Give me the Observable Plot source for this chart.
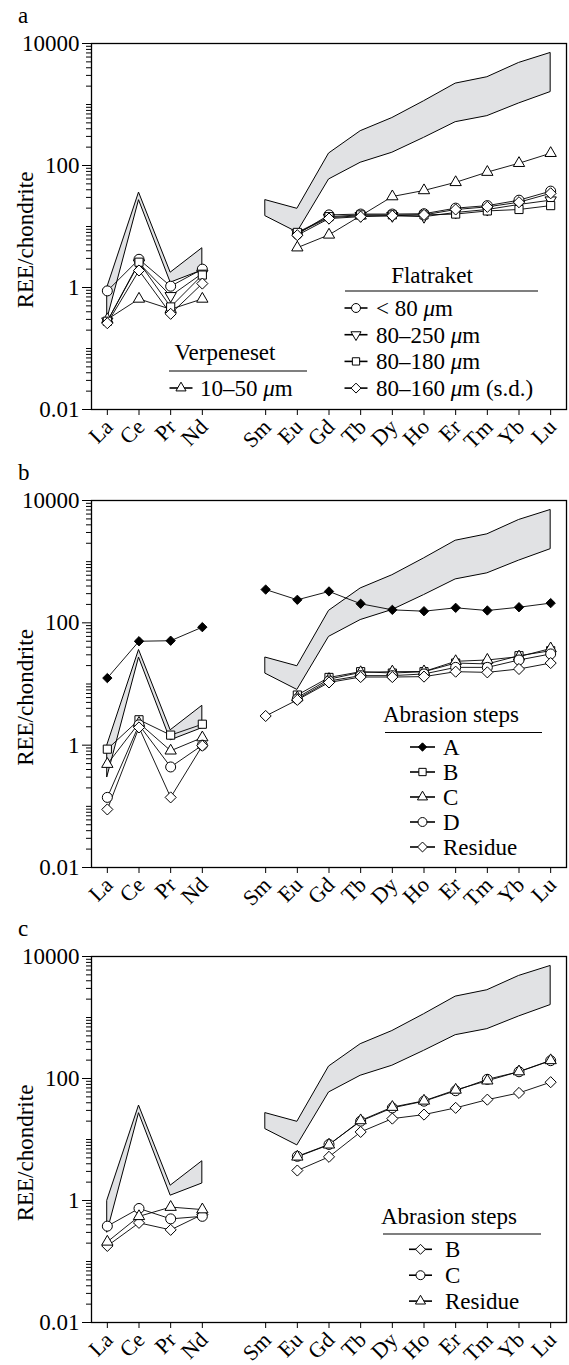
<!DOCTYPE html>
<html><head><meta charset="utf-8">
<script src="https://cdn.jsdelivr.net/npm/d3@7"></script>
<script src="https://cdn.jsdelivr.net/npm/@observablehq/plot@0.6"></script>
<style>
body{margin:0;background:#fff;}
#chart svg{display:block;}
</style></head><body><div id="chart"></div>
<script>
// ---------- data ----------
const elements = ["La","Ce","Pr","Nd","Sm","Eu","Gd","Tb","Dy","Ho","Er","Tm","Yb","Lu"];
const atomicNumbers = [57,58,59,60,62,63,64,65,66,67,68,69,70,71];
const yTicks = [0.01, 1, 100, 10000];
const yTickLabels = ["0.01", "1", "100", "10000"];
const yLabel = "REE/chondrite";

// reference field (grey band)
const bandUpper = [1.0, 36, 1.75, 4.4, 27, 19.5, 157, 365, 600, 1130, 2200, 2800, 4800, 7000];
const bandLower = [0.3, 27, 1.2, 1.9, 14.7, 8, 59, 111, 162, 284, 513, 645, 1040, 1600];

// panel a
const aVerpeneset = [0.30, 0.65, 0.44, 0.65, null, 4.5, 7.3, 15, 31, 39, 53, 78, 109, 159];
const aLt80 = [0.88, 2.9, 1.05, 2.0, null, 7.5, 15.5, 16, 16, 16.2, 20, 22, 27, 38];
const a80_250 = [0.28, 2.5, 0.73, 1.7, null, 7.8, 14, 15, 15, 14.5, 17, 19, 23, 27];
const a80_180 = [0.28, 2.6, 0.48, 1.6, null, 8.0, 14.5, 15.5, 15.5, 15.5, 16, 18, 19, 22];
const a80_160 = [0.26, 1.9, 0.37, 1.16, null, 7.2, 13.5, 14.5, 15, 15.5, 19, 21, 25, 35];
const aVerpTitle = "Verpeneset";
const aFlatTitle = "Flatraket";
const aVerpLabels = ["10–50 μm"];
const aFlatLabels = ["< 80 μm", "80–250 μm", "80–180 μm", "80–160 μm (s.d.)"];

// panel b
const bA = [12.5, 50, 51, 85, 350, 238, 326, 205, 163, 155, 176, 159, 180, 210];
const bB = [0.86, 2.6, 1.46, 2.2, null, 6.6, 12.8, 15.9, 15.1, 15.9, 22, 21.3, 29, 35];
const bC = [0.49, 2.3, 0.81, 1.33, null, 6.0, 12, 15.5, 15.9, 16, 23.5, 24.7, 28, 38];
const bD = [0.14, 2.15, 0.44, 1.0, null, 5.7, 11.2, 13.7, 13.7, 14.6, 18.7, 18.7, 24.7, 31];
const bResidue = [0.089, 1.95, 0.14, 0.98, 3.0, 5.5, 10.6, 13, 13, 13.2, 15.9, 15.5, 17.6, 22];
const bLabels = ["A", "B", "C", "D", "Residue"];

// panel c
const cB = [0.18, 0.43, 0.33, 0.59, null, 3.1, 5.2, 13.3, 22, 25.6, 33, 45, 58, 87];
const cC = [0.38, 0.74, 0.50, 0.55, null, 5.3, 8.3, 20, 33, 42.5, 63, 97, 129, 196];
const cResidue = [0.21, 0.55, 0.78, 0.71, null, 5.2, 8.2, 20.5, 34, 43, 65, 92, 130, 198];
const cLabels = ["B", "C", "Residue"];
const legendTitleAbrasion = "Abrasion steps";
const panelLetters = ["a", "b", "c"];

// ---------- symbols ----------
const SQ3 = Math.sqrt(3);
const triangleDown = {draw(ctx, size) {
  const y = Math.sqrt(size / (SQ3 * 3));
  ctx.moveTo(0, 2 * y); ctx.lineTo(-SQ3 * y, -y); ctx.lineTo(SQ3 * y, -y); ctx.closePath();
}};
const SYM = {
  circle: {type: d3.symbolCircle, r: 5},
  triangle: {type: d3.symbolTriangle, r: 4.2},
  triangleDown: {type: triangleDown, r: 4.2},
  square: {type: d3.symbolSquare, r: 4.6},
  diamond: {type: d3.symbolDiamond2, r: 5},
  diamondFilled: {type: d3.symbolDiamond2, r: 4.2, fill: "black"}
};

const FONT = "'Liberation Serif', 'Times New Roman', Times, serif";
const minorTicks = [];
for (let e = -2; e < 4; e++) for (let m = 1; m <= 9; m++) { const v = +(m * Math.pow(10, e)).toPrecision(6); if (!yTicks.includes(v)) minorTicks.push(v); }

const seg = i => (atomicNumbers[i] < 61 ? "L" : "H");
const band = elements.map((el, i) => ({x: atomicNumbers[i], lo: bandLower[i], hi: bandUpper[i], seg: seg(i)}));

function rowsOf(values) {
  return values.map((v, i) => ({x: atomicNumbers[i], y: v, seg: seg(i)})).filter(d => d.y != null);
}

function drawPanel({letter, series, height, marginTop, marginBottom, legends}) {
  const marks = [
    Plot.areaY(band, {x: "x", y1: "lo", y2: "hi", z: "seg", fill: "#e1e2e4", stroke: "black", strokeWidth: 1}),
    Plot.frame({stroke: "black", strokeWidth: 1.3}),
    Plot.axisY({ticks: minorTicks, tickSize: 5, tickFormat: () => "", label: null}),
    Plot.axisY({ticks: yTicks, tickSize: 9, tickPadding: 3, fontSize: 23,
      tickFormat: d => yTickLabels[yTicks.indexOf(d)], label: null}),
    Plot.axisX({ticks: atomicNumbers, tickSize: 6, tickFormat: () => "", label: null})
  ];
  for (const s of series) {
    marks.push(Plot.line(rowsOf(s.values), {x: "x", y: "y", z: "seg", stroke: "black", strokeWidth: 0.9}));
  }
  for (const s of series) {
    const sy = SYM[s.symbol];
    marks.push(Plot.dot(rowsOf(s.values), {x: "x", y: "y", symbol: sy.type, r: sy.r,
      fill: sy.fill || "white", stroke: "black", strokeWidth: 1}));
  }
  const svg = Plot.plot({
    width: 569, height, marginLeft: 91, marginRight: 3, marginTop, marginBottom,
    style: {fontFamily: FONT, fontSize: "23px", color: "black", background: "white", overflow: "visible"},
    x: {type: "linear", domain: [56.5, 71.5]},
    y: {type: "log", domain: [0.01, 10000]},
    marks
  });
  const g = d3.select(svg).append("g").attr("font-family", FONT).attr("font-size", 23).attr("fill", "black");
  const frameBottom = height - marginBottom;
  const xs = svg.scale("x");
  // rotated element labels on the x axis, placed with Plot's x scale
  elements.forEach((el, i) => {
    const px = xs.apply(atomicNumbers[i]);
    g.append("text").attr("transform", `translate(${px + 2},${frameBottom + 14}) rotate(-45)`)
      .attr("font-size", 22).attr("text-anchor", "end").attr("dominant-baseline", "central").text(el);
  });
  // panel letter
  g.append("text").attr("x", 18).attr("y", marginTop - 20).attr("text-anchor", "start").text(letter);
  // y label
  const yc = (marginTop + frameBottom) / 2 + 14;
  g.append("text").attr("transform", `translate(25,${yc}) rotate(-90)`)
    .attr("text-anchor", "middle").attr("dominant-baseline", "central").text(yLabel);
  // legends
  for (const L of legends) {
    g.append("text").attr("x", L.titleX).attr("y", frameBottom + L.titleY).attr("text-anchor", "middle").text(L.title);
    g.append("line").attr("x1", L.ruleX1).attr("x2", L.ruleX2)
      .attr("y1", frameBottom + L.ruleY).attr("y2", frameBottom + L.ruleY).attr("stroke", "black").attr("stroke-width", 1.2);
    L.items.forEach((it, k) => {
      const y = frameBottom + L.rowY0 + k * L.rowStep;
      const sy = SYM[it.symbol];
      g.append("line").attr("x1", L.symX - L.halfLine).attr("x2", L.symX + L.halfLine)
        .attr("y1", y).attr("y2", y).attr("stroke", "black").attr("stroke-width", 1.6);
      g.append("path").attr("transform", `translate(${L.symX},${y})`)
        .attr("d", d3.symbol().type(sy.type).size(Math.PI * sy.r * sy.r * 0.8)())
        .attr("fill", sy.fill || "white").attr("stroke", "black").attr("stroke-width", 1);
      const t = g.append("text").attr("x", L.textX).attr("y", y).attr("dy", "0.35em").attr("text-anchor", "start");
      const parts = it.label.split("μ");
      t.append("tspan").text(parts[0]);
      if (parts.length > 1) {
        t.append("tspan").attr("font-style", "italic").text("μ");
        t.append("tspan").text(parts[1]);
      }
    });
  }
  document.getElementById("chart").appendChild(svg);
}

// panel a
drawPanel({
  letter: panelLetters[0], height: 458, marginTop: 43, marginBottom: 49,
  series: [
    {values: aVerpeneset, symbol: "triangle"},
    {values: aLt80, symbol: "circle"},
    {values: a80_250, symbol: "triangleDown"},
    {values: a80_180, symbol: "square"},
    {values: a80_160, symbol: "diamond"}
  ],
  legends: [
    {title: aVerpTitle, titleX: 225, titleY: -49, ruleX1: 169, ruleX2: 307, ruleY: -38,
     rowY0: -21, rowStep: 26.7, symX: 181, halfLine: 11.5, textX: 200,
     items: [{label: aVerpLabels[0], symbol: "triangle"}]},
    {title: aFlatTitle, titleX: 432, titleY: -126, ruleX1: 345, ruleX2: 538, ruleY: -118,
     rowY0: -101, rowStep: 26.7, symX: 356, halfLine: 11.5, textX: 376,
     items: [
       {label: aFlatLabels[0], symbol: "circle"},
       {label: aFlatLabels[1], symbol: "triangleDown"},
       {label: aFlatLabels[2], symbol: "square"},
       {label: aFlatLabels[3], symbol: "diamond"}]}
  ]
});

// panel b
drawPanel({
  letter: panelLetters[1], height: 458, marginTop: 42, marginBottom: 49,
  series: [
    {values: bA, symbol: "diamondFilled"},
    {values: bB, symbol: "square"},
    {values: bC, symbol: "triangle"},
    {values: bD, symbol: "circle"},
    {values: bResidue, symbol: "diamond"}
  ],
  legends: [
    {title: legendTitleAbrasion, titleX: 451, titleY: -145, ruleX1: 385, ruleX2: 542, ruleY: -134.5,
     rowY0: -120, rowStep: 25, symX: 422.5, halfLine: 12.5, textX: 443,
     items: [
       {label: bLabels[0], symbol: "diamondFilled"},
       {label: bLabels[1], symbol: "square"},
       {label: bLabels[2], symbol: "triangle"},
       {label: bLabels[3], symbol: "circle"},
       {label: bLabels[4], symbol: "diamond"}]}
  ]
});

// panel c
drawPanel({
  letter: panelLetters[2], height: 449, marginTop: 40, marginBottom: 43,
  series: [
    {values: cB, symbol: "diamond"},
    {values: cC, symbol: "circle"},
    {values: cResidue, symbol: "triangle"}
  ],
  legends: [
    {title: legendTitleAbrasion, titleX: 449, titleY: -98, ruleX1: 383, ruleX2: 541, ruleY: -88,
     rowY0: -72.7, rowStep: 25.9, symX: 420.5, halfLine: 11.5, textX: 445,
     items: [
       {label: cLabels[0], symbol: "diamond"},
       {label: cLabels[1], symbol: "circle"},
       {label: cLabels[2], symbol: "triangle"}]}
  ]
});
</script></body></html>
